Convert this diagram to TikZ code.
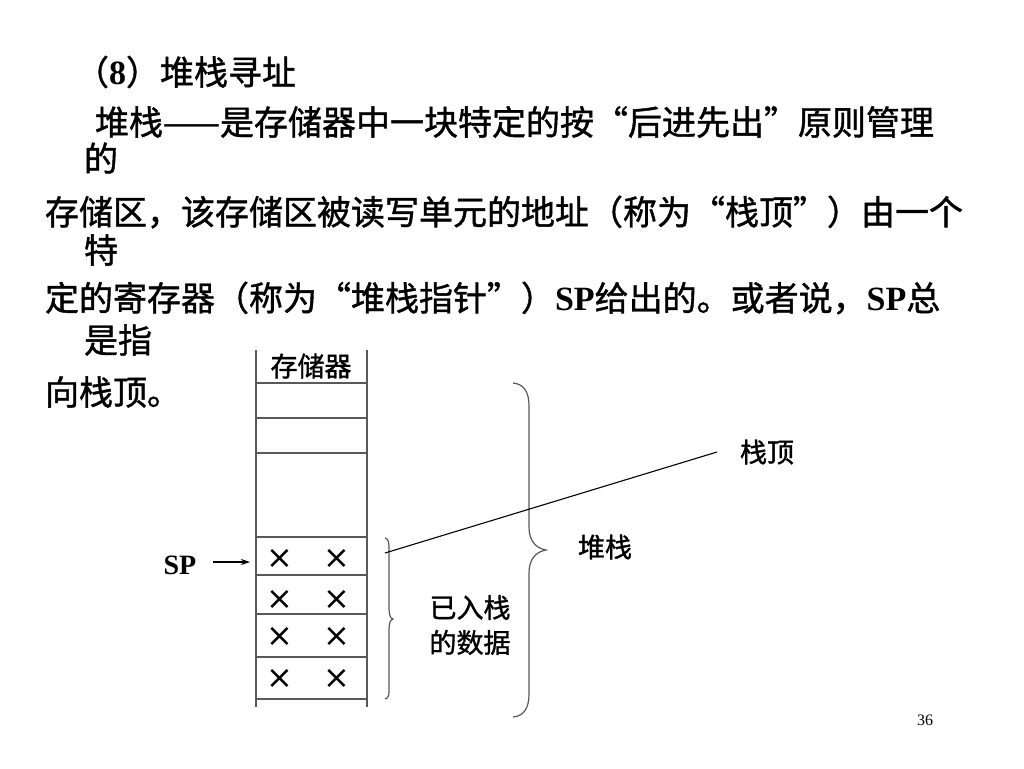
\documentclass[tikz,border=0pt]{standalone}
\usepackage{fontspec}
\setmainfont{Liberation Serif}
\newfontfamily\cjk[FakeBold=1.2]{Noto Sans CJK SC}
\newfontfamily\tnr{Liberation Serif}
\newfontfamily\djv{DejaVu Sans}
\usetikzlibrary{arrows.meta}
\begin{document}
\begin{tikzpicture}[x=1pt,y=-1pt,
  txt/.style={inner sep=0pt, outer sep=0pt, font=\cjk\fontsize{34}{40}\selectfont, anchor=west},
  lbl/.style={inner sep=0pt, outer sep=0pt, font=\cjk\fontsize{27}{35}\selectfont},
  cross/.style={inner sep=0pt, font=\djv\fontsize{32}{32}\selectfont},
  gridline/.style={draw=black!65, line width=1.4pt},
  bracepath/.style={draw=black!65, line width=1.2pt},
  thinline/.style={draw=black, line width=1.1pt}
]
\useasboundingbox[fill=white] (0,0) rectangle (1024,768);

% text block
\node[txt] (t1) at (75,72) {（{\tnr\bfseries 8}）堆栈寻址};
\node[txt] (t2) at (95,122) {堆栈——是存储器中一块特定的按“后进先出”原则管理};
\node[txt] (t3) at (84,158) {的};
\node[txt] (t4) at (45,212) {存储区，该存储区被读写单元的地址（称为“栈顶”）由一个};
\node[txt] (t5) at (84,250) {特};
\node[txt] (t6) at (45,298) {定的寄存器（称为“堆栈指针”）{\tnr\bfseries SP}给出的。或者说，{\tnr\bfseries SP}总};
\node[txt] (t7) at (84,340) {是指};
\node[txt] (t8) at (45,392) {向栈顶。};

% memory column
\draw[gridline] (256,350) -- (256,707);
\draw[gridline] (367,350) -- (367,707);
\foreach \yy in {383,418,453,537,575,614,657,699}{
  \draw[gridline] (256,\yy) -- (367,\yy);
}
\node[lbl] (mem) at (311,366) {存储器};

% crosses
\foreach \yy [count=\i] in {559,600,637,679}{
  \node[cross] (xa\i) at (280,\yy) {×};
  \node[cross] (xb\i) at (337,\yy) {×};
}

% SP pointer
\node[inner sep=0pt, font=\tnr\bfseries\fontsize{28}{28}\selectfont] (sp) at (180,565) {SP};
\coordinate (a0) at (213,562);
\coordinate (a1) at (250,562);
\draw[line width=1.1pt, -{Stealth[length=9pt,width=6pt]}] (a0) -- (a1);

% small brace
\draw[bracepath] (385,538) .. controls (389,539) and (389,543) .. (389,551) -- (389,606)
  .. controls (389,615) and (390,618) .. (393,619)
  .. controls (390,620) and (389,623) .. (389,632) -- (389,688)
  .. controls (389,695) and (389,698) .. (385,699);

% big brace
\draw[bracepath] (513,383) .. controls (524,384) and (529,392) .. (529,406) -- (529,527)
  .. controls (529,540) and (535,548) .. (546,550)
  .. controls (535,552) and (529,560) .. (529,573) -- (529,694)
  .. controls (529,708) and (524,716) .. (513,717);

% labels
\node[lbl] (top) at (767,452) {栈顶};
\node[lbl] (stk) at (605,547) {堆栈};
\node[lbl, align=center] (pushed) at (470,625) {已入栈\\的数据};

% leader line
\coordinate (l0) at (385,553);
\coordinate (l1) at (717,452);
\draw[thinline] (l0) -- (l1);

\node[inner sep=0pt, font=\tnr\fontsize{16}{16}\selectfont] (pg) at (925,720) {36};
\end{tikzpicture}
\end{document}
